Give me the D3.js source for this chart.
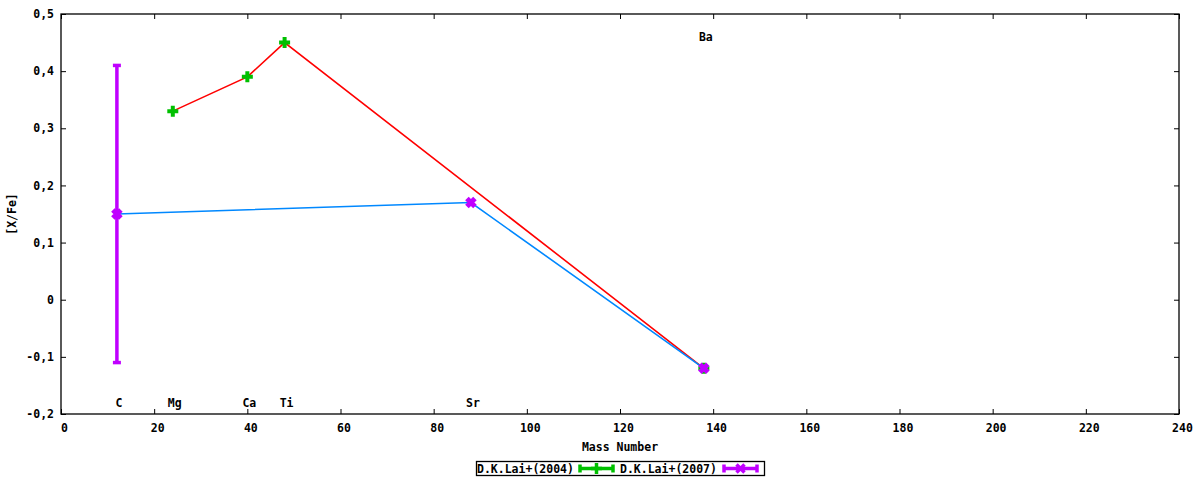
<!DOCTYPE html>
<html>
<head>
    <meta charset="utf-8" />
    <title>[X/Fe] vs Mass Number</title>
    <script src="https://cdn.jsdelivr.net/npm/d3@7/dist/d3.min.js"></script>
    <style type="text/css">
        body { margin: 0; background: #fff; }
        text { font-family: "DejaVu Sans Mono", monospace; font-size: 11.5px; font-weight: bold; fill: #000; }
    </style>
</head>
<body>
<div id="chart"></div>
<script type="text/javascript">
    // D.K.Lai+(2004): Mg, Ca, Ti, Ba
    var lai2004Mass = [24, 40, 48, 138];
    var lai2004Val = [0.33, 0.39, 0.45, -0.12];

    // D.K.Lai+(2007): C, Sr, Ba
    var lai2007Mass = [12, 88, 138];
    var lai2007Val = [0.15, 0.17, -0.12];
    var lai2007Err = [0.26, 0, 0];

    // element labels
    var elemNames = ["C", "Mg", "Ca", "Ti", "Sr", "Ba"];
    var elemMass = [12, 24, 40, 48, 88, 138];
    var elemY = [-0.18, -0.18, -0.18, -0.18, -0.18, 0.46];

    var xTicks = [0, 20, 40, 60, 80, 100, 120, 140, 160, 180, 200, 220, 240];
    var yTicks = [-0.2, -0.1, 0, 0.1, 0.2, 0.3, 0.4, 0.5];

    var width = 1200, height = 480;
    var margin = { top: 14, right: 21, bottom: 66, left: 61 };

    var svg = d3.select("#chart").append("svg")
        .attr("width", width)
        .attr("height", height);

    var x = d3.scaleLinear().domain([0, 240]).range([margin.left, width - margin.right]);
    var y = d3.scaleLinear().domain([-0.2, 0.5]).range([height - margin.bottom, margin.top]);

    var loc = d3.formatLocale({ decimal: ",", thousands: ".", grouping: [3], currency: ["", ""], minus: "-" });
    var fmt = loc.format(".1~f");

    // axes with inward ticks, mirrored on top/right
    var gx = svg.append("g").attr("transform", "translate(0," + y.range()[0] + ")")
        .call(d3.axisBottom(x).tickValues(xTicks).tickSizeInner(-5).tickSizeOuter(0).tickPadding(10).tickFormat(d3.format("d")));
    var gy = svg.append("g").attr("transform", "translate(" + x.range()[0] + ",0)")
        .call(d3.axisLeft(y).tickValues(yTicks).tickSizeInner(-5).tickSizeOuter(0).tickPadding(7).tickFormat(fmt));
    var gt = svg.append("g").attr("transform", "translate(0," + y.range()[1] + ")")
        .call(d3.axisTop(x).tickValues(xTicks).tickSizeInner(-5).tickSizeOuter(0).tickFormat(""));
    var gr = svg.append("g").attr("transform", "translate(" + x.range()[1] + ",0)")
        .call(d3.axisRight(y).tickValues(yTicks).tickSizeInner(-5).tickSizeOuter(0).tickFormat(""));
    [gx, gy, gt, gr].forEach(function (g) {
        g.select(".domain").remove();
        g.selectAll("text").attr("font-family", null).attr("font-size", null);
        g.selectAll("line").attr("stroke", "#000");
    });
    gx.selectAll("text").attr("dx", 3);

    // frame
    svg.append("rect")
        .attr("x", x.range()[0]).attr("y", y.range()[1])
        .attr("width", x.range()[1] - x.range()[0])
        .attr("height", y.range()[0] - y.range()[1])
        .attr("fill", "none").attr("stroke", "#000").attr("stroke-width", 1.3);

    // axis titles
    svg.append("text")
        .attr("x", (x.range()[0] + x.range()[1]) / 2).attr("y", 451)
        .attr("text-anchor", "middle").text("Mass Number");
    svg.append("text")
        .attr("transform", "translate(16," + (y.range()[0] + y.range()[1]) / 2 + ") rotate(-90)")
        .attr("text-anchor", "middle").text("[X/Fe]");

    // element labels
    svg.selectAll(".elem").data(elemNames).enter().append("text")
        .attr("class", "elem")
        .attr("x", function (d, i) { return x(elemMass[i]) + 2; })
        .attr("y", function (d, i) { return y(elemY[i]); })
        .attr("dy", "0.35em")
        .attr("text-anchor", "middle")
        .text(function (d) { return d; });

    var line = d3.line()
        .x(function (d) { return x(d[0]); })
        .y(function (d) { return y(d[1]); });

    var s2004 = lai2004Mass.map(function (m, i) { return [m, lai2004Val[i]]; });
    var s2007 = lai2007Mass.map(function (m, i) { return [m, lai2007Val[i], lai2007Err[i]]; });

    svg.append("path").datum(s2004).attr("d", line)
        .attr("fill", "none").attr("stroke", "#ff0000").attr("stroke-width", 1.6);
    svg.append("path").datum(s2007).attr("d", line)
        .attr("fill", "none").attr("stroke", "#0088ff").attr("stroke-width", 1.6);

    var green = "#00c000", purple = "#c000ff";
    var plusShape = "M-5.5,0H5.5M0,-5.5V5.5";
    var crossShape = "M-4,-4L4,4M-4,4L4,-4";

    // green plus markers
    svg.selectAll(".p2004").data(s2004).enter().append("path")
        .attr("class", "p2004")
        .attr("transform", function (d) { return "translate(" + x(d[0]) + "," + y(d[1]) + ")"; })
        .attr("d", plusShape)
        .attr("stroke", green).attr("stroke-width", 4).attr("fill", "none");

    // purple error bars
    var eb = svg.selectAll(".eb").data(s2007.filter(function (d) { return d[2] > 0; })).enter().append("g");
    eb.append("line")
        .attr("x1", function (d) { return x(d[0]); }).attr("x2", function (d) { return x(d[0]); })
        .attr("y1", function (d) { return y(d[1] - d[2]); }).attr("y2", function (d) { return y(d[1] + d[2]); })
        .attr("stroke", purple).attr("stroke-width", 3.5);
    eb.each(function (d) {
        var g = d3.select(this);
        [d[1] - d[2], d[1] + d[2]].forEach(function (v) {
            g.append("line")
                .attr("x1", x(d[0]) - 4).attr("x2", x(d[0]) + 4)
                .attr("y1", y(v)).attr("y2", y(v))
                .attr("stroke", purple).attr("stroke-width", 3.5);
        });
    });

    // purple x markers
    svg.selectAll(".p2007").data(s2007).enter().append("path")
        .attr("class", "p2007")
        .attr("transform", function (d) { return "translate(" + x(d[0]) + "," + y(d[1]) + ")"; })
        .attr("d", crossShape)
        .attr("stroke", purple).attr("stroke-width", 5).attr("fill", "none");

    // legend
    var lg = svg.append("g");
    lg.append("rect").attr("x", 476.5).attr("y", 461.5).attr("width", 288).attr("height", 14)
        .attr("fill", "none").attr("stroke", "#000").attr("stroke-width", 1.3);
    lg.append("text").attr("x", 477).attr("y", 472.5).text("D.K.Lai+(2004)");
    lg.append("text").attr("x", 620).attr("y", 472.5).text("D.K.Lai+(2007)");

    function legendSample(x0, x1, color, shape) {
        var ym = 468.5;
        lg.append("line").attr("x1", x0).attr("x2", x1).attr("y1", ym).attr("y2", ym)
            .attr("stroke", color).attr("stroke-width", 3.5);
        [x0, x1].forEach(function (xx) {
            lg.append("line").attr("x1", xx).attr("x2", xx).attr("y1", ym - 4).attr("y2", ym + 4)
                .attr("stroke", color).attr("stroke-width", 3.5);
        });
        lg.append("path").attr("transform", "translate(" + (x0 + x1) / 2 + "," + ym + ")")
            .attr("d", shape).attr("stroke", color).attr("stroke-width", 3.5).attr("fill", "none");
    }
    legendSample(580, 613, green, plusShape);
    legendSample(724, 757, purple, crossShape);
</script>
</body>
</html>
